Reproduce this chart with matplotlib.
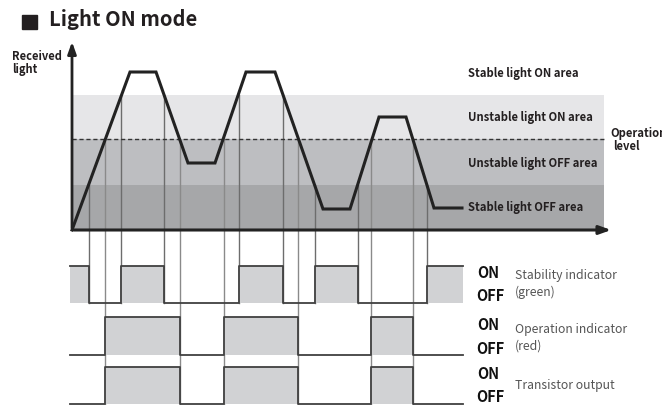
import numpy as np
import matplotlib.pyplot as plt

plt.rcParams['font.family'] = ['Noto Sans CJK SC', 'DejaVu Sans']

# received light waveform (x, level), pixel-like units, y grows downward
wave_x = [72, 130, 156, 188, 215, 246, 275, 323, 350, 379, 406, 434, 462]
wave_y = [230, 72, 72, 163, 163, 72, 72, 209, 209, 117, 117, 208, 208]

# area bands: (top, bottom, colour)
band_tops = [95, 139, 185]
band_bottoms = [139, 185, 230]
band_colors = ['#e6e6e8', '#bdbec1', '#a6a7a9']
band_labels = ['Stable light ON area', 'Unstable light ON area',
               'Unstable light OFF area', 'Stable light OFF area']
band_label_y = [73, 117, 163, 207]
op_level = 139

# switching times of the indicators
stab_edges = [88.7, 121, 164, 239, 282.7, 315, 357.7, 426.7]
stab_cross = [185, 95, 95, 95, 95, 185, 185, 185]
op_edges = [105, 179.6, 224, 298, 371.3, 412.7]

# timing rows: (ON level, OFF level)
rows = [(266, 303), (317, 355), (367, 404)]
row_names = [('Stability indicator', '(green)'), ('Operation indicator', '(red)'),
             ('Transistor output', '')]

fig = plt.figure(figsize=(6.62, 4.05), dpi=100)
ax = fig.add_axes([0, 0, 1, 1])
ax.set_xlim(0, 662)
ax.set_ylim(405, 0)
ax.axis('off')

# bands
for t, b, c in zip(band_tops, band_bottoms, band_colors):
    ax.fill_between([72, 604], t, b, color=c, lw=0, zorder=1)
ax.plot([72, 604], [op_level, op_level], color='#333333', lw=1, ls=(0, (3, 2)), zorder=3)

# guide lines from crossings down to the timing rows
for x, y in zip(stab_edges, stab_cross):
    ax.plot([x, x], [y, rows[0][1]], color='#6d6d6d', lw=1, zorder=2)
for x in op_edges:
    ax.plot([x, x], [op_level, rows[2][1]], color='#8a8a8a', lw=1, zorder=2)


def step_signal(edges, start_on, on, off):
    xs = [70] + list(edges) + [463]
    ys = []
    state = start_on
    for i in range(len(xs) - 1):
        ys.append(on if state else off)
        state = not state
    ys.append(ys[-1])
    return xs, ys


sigs = [step_signal(stab_edges, True, *rows[0]),
        step_signal(op_edges, False, *rows[1]),
        step_signal(op_edges, False, *rows[2])]
for (xs, ys), (on, off) in zip(sigs, rows):
    ax.fill_between(xs, ys, off, step='post', color='#d1d2d4', lw=0, zorder=2)
    ax.step(xs, ys, where='post', color='#404040', lw=1.3, zorder=4)

# waveform
ax.plot(wave_x, wave_y, color='#222222', lw=2.2, solid_joinstyle='miter', zorder=5)

# axes arrows
ax.annotate('', xy=(72, 39), xytext=(72, 231),
            arrowprops=dict(arrowstyle='-|>,head_length=0.7,head_width=0.25', color='#222222', lw=2), zorder=6)
ax.annotate('', xy=(614, 230), xytext=(71, 230),
            arrowprops=dict(arrowstyle='-|>,head_length=0.7,head_width=0.25', color='#222222', lw=2.2), zorder=6)

# texts
ax.add_patch(plt.Rectangle((22, 14.5), 14.5, 14, color='#231f20', zorder=6))
ax.text(49, 20, 'Light ON mode', fontsize=14.5, fontweight='bold', va='center', color='#231f20')
ax.text(12, 56, 'Received', fontsize=8, fontweight='bold', va='center', color='#231f20')
ax.text(12, 69, 'light', fontsize=8, fontweight='bold', va='center', color='#231f20')
for lab, y in zip(band_labels, band_label_y):
    ax.text(468, y, lab, fontsize=8.1, fontweight='bold', va='center', color='#231f20')
ax.text(610, 133, 'Operation', fontsize=8.1, fontweight='bold', va='center', color='#231f20')
ax.text(613, 146, 'level', fontsize=8.1, fontweight='bold', va='center', color='#231f20')

on_y = [273, 325, 374]
off_y = [296, 349, 397]
name_y = [(276, 292), (330, 346), (385, None)]
for i in range(3):
    ax.text(477, on_y[i], 'ON', fontsize=10.5, fontweight='bold', va='center', color='#111111')
    ax.text(476, off_y[i], 'OFF', fontsize=10.5, fontweight='bold', va='center', color='#111111')
    ax.text(515, name_y[i][0], row_names[i][0], fontsize=8.8, va='center', color='#555555')
    if row_names[i][1]:
        ax.text(515, name_y[i][1], row_names[i][1], fontsize=8.8, va='center', color='#555555')

fig.savefig('out.png', dpi=100)
